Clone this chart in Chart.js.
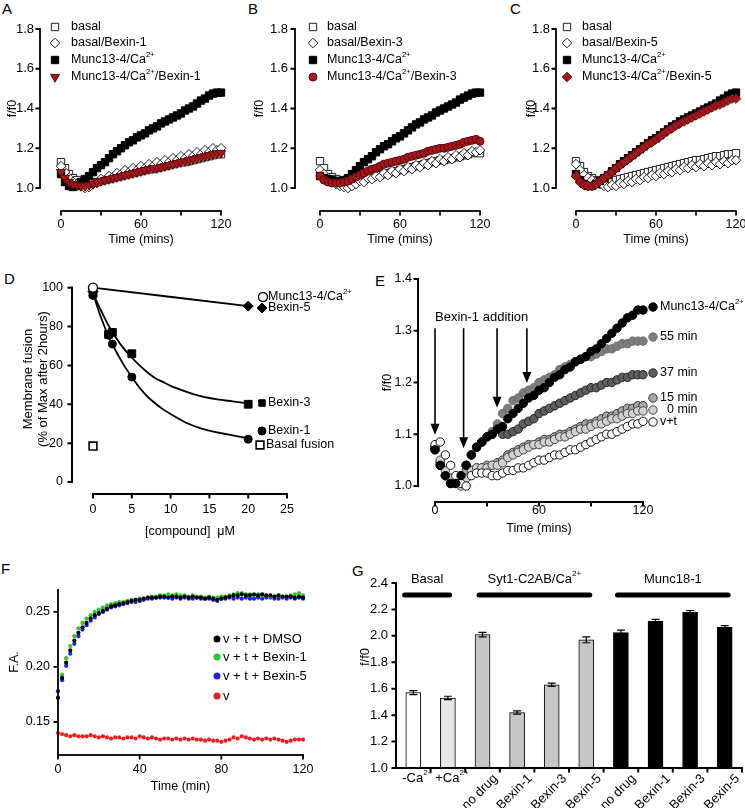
<!DOCTYPE html>
<html>
<head>
<meta charset="utf-8">
<script src="https://cdn.jsdelivr.net/npm/chart.js@4.4.1/dist/chart.umd.min.js"></script>
<style>
html, body { margin:0; padding:0; background:#fff; }
body { position:relative; width:745px; height:808px; overflow:hidden; font-family:"Liberation Sans", Arial, sans-serif; }
canvas { position:absolute; }
.pl { position:absolute; font-size:15px; line-height:15px; color:#000; }
</style>
</head>
<body>
<div class="pl" style="left:2px;top:1px">A</div>
<div class="pl" style="left:248px;top:1px">B</div>
<div class="pl" style="left:510px;top:1px">C</div>
<div class="pl" style="left:4px;top:271px">D</div>
<div class="pl" style="left:375px;top:273px">E</div>
<div class="pl" style="left:1px;top:561px">F</div>
<div class="pl" style="left:352px;top:563px">G</div>
<script>
// ================= DATA =================
const TIME_ABC = [0,3,6,9,12,15,18,21,24,27,30,33,36,39,42,45,48,51,54,57,60,63,66,69,72,75,78,81,84,87,90,93,96,99,102,105,108,111,114,117,120];
const X_TICKS_ABC = [0,30,60,90,120];
const X_LABELS_ABC = [0,60,120];
const Y_TICKS_ABC = [1.0,1.2,1.4,1.6,1.8];

// Panel A
const A_BASAL = [1.13,1.10,1.07,1.05,1.04,1.03,1.02,1.02,1.025,1.03,1.035,1.04,1.045,1.05,1.055,1.06,1.065,1.07,1.075,1.08,1.085,1.09,1.095,1.095,1.10,1.105,1.11,1.115,1.12,1.125,1.13,1.13,1.135,1.14,1.145,1.15,1.155,1.16,1.165,1.17,1.17];
const A_BASAL_BEXIN1 = [1.11,1.08,1.05,1.03,1.02,1.01,1.0,1.005,1.02,1.025,1.045,1.04,1.06,1.055,1.075,1.07,1.09,1.08,1.10,1.09,1.11,1.10,1.12,1.11,1.13,1.12,1.14,1.13,1.15,1.14,1.16,1.15,1.17,1.16,1.18,1.17,1.19,1.18,1.20,1.19,1.20];
const A_MUNC = [1.07,1.03,1.01,1.005,1.01,1.03,1.045,1.06,1.08,1.10,1.115,1.13,1.15,1.17,1.185,1.20,1.215,1.23,1.24,1.255,1.265,1.275,1.29,1.30,1.31,1.325,1.335,1.345,1.355,1.365,1.375,1.39,1.40,1.41,1.425,1.44,1.45,1.465,1.475,1.48,1.48];
const A_MUNC_BEXIN1 = [1.08,1.05,1.03,1.02,1.015,1.01,1.01,1.015,1.02,1.03,1.035,1.04,1.045,1.05,1.055,1.06,1.065,1.07,1.075,1.08,1.085,1.09,1.095,1.10,1.10,1.105,1.11,1.115,1.12,1.125,1.13,1.135,1.14,1.145,1.15,1.155,1.16,1.165,1.17,1.175,1.175];

// Panel B
const B_BASAL = [1.135,1.10,1.07,1.055,1.045,1.035,1.03,1.03,1.03,1.035,1.04,1.045,1.05,1.055,1.06,1.065,1.07,1.075,1.08,1.085,1.09,1.095,1.10,1.105,1.11,1.115,1.12,1.125,1.13,1.135,1.14,1.14,1.145,1.15,1.155,1.16,1.165,1.17,1.175,1.18,1.175];
const B_BASAL_BEXIN3 = [1.09,1.07,1.05,1.03,1.02,1.01,1.005,1.0,1.01,1.02,1.035,1.03,1.05,1.045,1.06,1.055,1.075,1.065,1.085,1.075,1.095,1.085,1.105,1.095,1.115,1.105,1.125,1.115,1.135,1.125,1.145,1.135,1.155,1.145,1.165,1.155,1.175,1.165,1.185,1.18,1.19];
const B_MUNC = [1.06,1.05,1.045,1.04,1.035,1.035,1.04,1.05,1.07,1.09,1.11,1.13,1.145,1.16,1.18,1.195,1.21,1.22,1.235,1.25,1.26,1.275,1.29,1.305,1.32,1.33,1.345,1.355,1.365,1.38,1.39,1.40,1.41,1.42,1.43,1.445,1.455,1.465,1.475,1.48,1.48];
const B_MUNC_BEXIN3 = [1.06,1.04,1.03,1.025,1.025,1.025,1.03,1.035,1.045,1.055,1.065,1.075,1.085,1.095,1.10,1.11,1.12,1.125,1.13,1.135,1.14,1.145,1.155,1.16,1.165,1.17,1.175,1.185,1.19,1.195,1.20,1.20,1.205,1.21,1.215,1.22,1.23,1.235,1.24,1.245,1.235];

// Panel C
const C_BASAL = [1.135,1.11,1.08,1.06,1.05,1.04,1.035,1.03,1.03,1.035,1.04,1.045,1.05,1.055,1.06,1.065,1.07,1.075,1.08,1.085,1.09,1.095,1.10,1.105,1.11,1.115,1.12,1.125,1.13,1.135,1.14,1.14,1.145,1.15,1.155,1.16,1.16,1.165,1.17,1.17,1.175];
const C_BASAL_BEXIN5 = [1.12,1.09,1.065,1.05,1.04,1.03,1.02,1.01,1.005,1.015,1.01,1.025,1.02,1.035,1.03,1.045,1.04,1.055,1.05,1.065,1.06,1.075,1.07,1.085,1.08,1.095,1.09,1.105,1.10,1.115,1.105,1.12,1.11,1.125,1.115,1.13,1.12,1.135,1.125,1.14,1.14];
const C_MUNC = [1.07,1.04,1.02,1.01,1.01,1.02,1.035,1.05,1.065,1.085,1.10,1.12,1.135,1.15,1.165,1.18,1.195,1.21,1.225,1.24,1.25,1.265,1.28,1.295,1.31,1.32,1.335,1.345,1.355,1.365,1.375,1.385,1.395,1.405,1.415,1.425,1.44,1.45,1.465,1.475,1.48];
const C_MUNC_BEXIN5 = [1.06,1.03,1.015,1.01,1.01,1.02,1.035,1.05,1.065,1.08,1.10,1.115,1.13,1.145,1.16,1.175,1.19,1.205,1.22,1.23,1.245,1.26,1.275,1.29,1.30,1.315,1.325,1.335,1.345,1.355,1.365,1.375,1.385,1.395,1.405,1.415,1.42,1.43,1.44,1.45,1.45];

// Panel D
const D_CONC = [0, 2, 2.5, 5, 20];
const D_BEXIN1 = [96, 75.5, 71, 54, 22];
const D_BEXIN3 = [97, 76, 77, 66, 40];
const D_BEXIN5_CONC = [0, 20];
const D_BEXIN5 = [98, 90.5];
const D_MUNC_CONC = [0];
const D_MUNC = [100];
const D_BASAL_CONC = [0];
const D_BASAL = [18.5];
const D_FIT_CONC = [0,1,2,3,4,5,6,7,8,9,10,12,14,16,18,20];
const D_FIT_BEXIN1 = [97,85,75,67,60,54,48.5,44,40.5,37.5,35,30.5,27.5,25.5,24,22.5];
const D_FIT_BEXIN3 = [97,88.5,80.5,74,68.5,64,60,56.5,53.5,51.5,49.5,46.5,44,42.5,41.5,40.5];
const D_FIT_BEXIN5_CONC = [0, 20];
const D_FIT_BEXIN5 = [100, 90.5];
const D_X_TICKS = [0,5,10,15,20,25];
const D_Y_TICKS = [0,20,40,60,80,100];

// Panel E
const TIME_E = [0,3,6,9,12,15,18,21,24,27,30,33,36,39,42,45,48,51,54,57,60,63,66,69,72,75,78,81,84,87,90,93,96,99,102,105,108,111,114,117,120];
const E_MUNC = [1.07,1.04,1.02,1.005,1.005,1.02,1.04,1.06,1.075,1.085,1.095,1.10,1.11,1.115,1.13,1.14,1.15,1.16,1.17,1.175,1.185,1.19,1.20,1.21,1.215,1.225,1.23,1.24,1.245,1.25,1.26,1.265,1.275,1.285,1.295,1.305,1.315,1.325,1.33,1.34,1.34];
const E_55MIN = [1.075,1.045,1.02,1.005,1.005,1.02,1.04,1.06,1.075,1.085,1.095,1.105,1.12,1.14,1.15,1.165,1.17,1.18,1.185,1.19,1.20,1.205,1.21,1.215,1.225,1.23,1.235,1.24,1.245,1.25,1.25,1.255,1.26,1.265,1.265,1.27,1.275,1.275,1.28,1.28,1.28];
const E_37MIN = [1.07,1.04,1.02,1.005,1.005,1.02,1.04,1.06,1.075,1.085,1.095,1.10,1.11,1.10,1.10,1.105,1.11,1.12,1.125,1.13,1.14,1.145,1.15,1.155,1.16,1.165,1.17,1.175,1.18,1.185,1.19,1.19,1.195,1.20,1.20,1.205,1.21,1.21,1.215,1.215,1.215];
const E_15MIN = [1.075,1.045,1.02,1.005,1.005,1.02,1.03,1.03,1.035,1.035,1.04,1.04,1.045,1.05,1.06,1.065,1.07,1.075,1.08,1.08,1.085,1.09,1.09,1.095,1.10,1.10,1.105,1.11,1.115,1.12,1.12,1.125,1.13,1.135,1.135,1.14,1.145,1.15,1.15,1.155,1.155];
const E_0MIN = [1.075,1.05,1.03,1.015,1.005,1.0,1.015,1.03,1.035,1.035,1.035,1.04,1.04,1.045,1.055,1.06,1.065,1.07,1.075,1.08,1.08,1.085,1.085,1.09,1.095,1.095,1.10,1.105,1.11,1.11,1.115,1.12,1.12,1.125,1.13,1.13,1.135,1.14,1.14,1.145,1.145];
const E_VT = [1.08,1.085,1.06,1.04,1.02,1.005,1.0,1.02,1.025,1.025,1.025,1.02,1.02,1.025,1.03,1.03,1.035,1.035,1.04,1.045,1.05,1.05,1.055,1.06,1.06,1.065,1.07,1.07,1.075,1.08,1.085,1.09,1.095,1.10,1.10,1.105,1.11,1.115,1.12,1.12,1.125];
const E_X_TICKS = [0,30,60,90,120];
const E_X_LABELS = [0,60,120];
const E_Y_TICKS = [1.0,1.1,1.2,1.3,1.4];
const E_ADDITION_TIMES = [0, 16.5, 35.8, 53];
const E_ARROW_TIPS = [1.099, 1.073, 1.151, 1.199];

// Panel F
const TIME_F = [0,2,4,6,8,10,12,14,16,18,20,22,24,26,28,30,32,34,36,38,40,42,44,46,48,50,52,54,56,58,60,62,64,66,68,70,72,74,76,78,80,82,84,86,88,90,92,94,96,98,100,102,104,106,108,110,112,114,116,118,120];
const F_DMSO = [0.172,0.190,0.204,0.215,0.224,0.231,0.236,0.240,0.244,0.247,0.249,0.251,0.253,0.255,0.256,0.257,0.258,0.259,0.260,0.261,0.261,0.262,0.263,0.263,0.263,0.264,0.264,0.263,0.264,0.264,0.263,0.264,0.263,0.264,0.263,0.263,0.262,0.263,0.262,0.261,0.262,0.263,0.264,0.265,0.265,0.266,0.265,0.265,0.266,0.265,0.266,0.265,0.265,0.264,0.265,0.264,0.264,0.264,0.263,0.264,0.263];
const F_BEXIN1 = [0.172,0.193,0.208,0.219,0.228,0.235,0.240,0.244,0.247,0.250,0.252,0.254,0.256,0.257,0.258,0.259,0.259,0.260,0.261,0.261,0.262,0.262,0.263,0.264,0.264,0.265,0.265,0.266,0.265,0.266,0.265,0.265,0.264,0.265,0.264,0.264,0.263,0.264,0.263,0.263,0.264,0.264,0.265,0.266,0.267,0.267,0.266,0.266,0.265,0.266,0.265,0.265,0.264,0.264,0.265,0.264,0.264,0.265,0.266,0.267,0.265];
const F_BEXIN5 = [0.178,0.188,0.201,0.212,0.221,0.228,0.234,0.238,0.242,0.245,0.248,0.250,0.252,0.254,0.255,0.256,0.257,0.258,0.259,0.259,0.260,0.261,0.262,0.262,0.263,0.263,0.263,0.263,0.262,0.263,0.262,0.263,0.262,0.262,0.263,0.262,0.262,0.262,0.261,0.260,0.262,0.262,0.263,0.262,0.263,0.262,0.263,0.262,0.262,0.263,0.262,0.263,0.263,0.262,0.262,0.263,0.262,0.263,0.262,0.263,0.262];
const F_V = [0.140,0.139,0.138,0.137,0.138,0.137,0.137,0.137,0.138,0.137,0.136,0.137,0.136,0.135,0.136,0.136,0.135,0.136,0.136,0.135,0.137,0.136,0.135,0.136,0.135,0.134,0.135,0.135,0.134,0.135,0.134,0.135,0.134,0.135,0.134,0.134,0.133,0.134,0.133,0.133,0.132,0.133,0.134,0.136,0.135,0.137,0.136,0.135,0.134,0.135,0.134,0.135,0.134,0.135,0.134,0.133,0.132,0.133,0.134,0.134,0.134];
const F_X_TICKS = [0,40,80,120];
const F_Y_TICKS = [0.15,0.20,0.25];

// Panel G
const G_LABELS = ['-Ca²⁺','+Ca²⁺','no drug','Bexin-1','Bexin-3','Bexin-5','no drug','Bexin-1','Bexin-3','Bexin-5'];
const G_VALUES = [1.57,1.53,2.01,1.42,1.63,1.97,2.025,2.11,2.18,2.065];
const G_ERRORS = [0.015,0.013,0.017,0.013,0.012,0.022,0.018,0.015,0.012,0.012];
const G_GROUPS = ['Basal','Syt1-C2AB/Ca²⁺','Munc18-1'];
const G_GROUP_FIRST = [0,2,6];
const G_GROUP_LAST = [1,5,9];
const G_Y_TICKS = [1.0,1.2,1.4,1.6,1.8,2.0,2.2,2.4];

// ================= HELPERS =================
const FONT = '"Liberation Sans", Arial, Helvetica, sans-serif';
Chart.defaults.font.family = FONT;
Chart.defaults.font.size = 12.5;
Chart.defaults.color = '#000';

const SUPMAP = {'²':'2','⁺':'+'};
function fontStr(size) { return size + 'px ' + FONT; }
function richText(ctx, text, x, y, size, align) {
  const segs = [];
  let cur = '', sup = false;
  for (const ch of text) {
    const s = (ch in SUPMAP);
    if (cur && s !== sup) { segs.push({t: cur, s: sup}); cur = ''; }
    sup = s; cur += s ? SUPMAP[ch] : ch;
  }
  if (cur) segs.push({t: cur, s: sup});
  ctx.save();
  let w = 0;
  for (const g of segs) { ctx.font = fontStr(g.s ? size * 0.62 : size); g.w = ctx.measureText(g.t).width; w += g.w; }
  let cx = align === 'center' ? x - w / 2 : (align === 'right' ? x - w : x);
  ctx.textAlign = 'left'; ctx.textBaseline = 'middle'; ctx.fillStyle = '#000';
  for (const g of segs) {
    ctx.font = fontStr(g.s ? size * 0.62 : size);
    ctx.fillText(g.t, cx, g.s ? y - size * 0.38 : y);
    cx += g.w;
  }
  ctx.restore();
}
function drawMarker(ctx, style, r, rot, bw, x, y) {
  if (Chart.helpers && Chart.helpers.drawPoint) {
    Chart.helpers.drawPoint(ctx, {pointStyle: style, radius: r, rotation: rot, borderWidth: bw}, x, y);
  } else {
    ctx.beginPath(); ctx.arc(x, y, r, 0, Math.PI * 2); ctx.fill(); if (bw) ctx.stroke();
  }
}
const pts = (xs, ys) => xs.map((x, i) => ({x: x, y: ys[i]}));

function markerDS(label, xs, ys, st, order) {
  return {label: label, data: pts(xs, ys), showLine: false, clip: false, order: order,
    pointStyle: st.style, pointRadius: st.r, pointRotation: st.rot || 0,
    pointBackgroundColor: st.fill, pointBorderColor: st.stroke, pointBorderWidth: st.bw,
    backgroundColor: st.fill, borderColor: st.stroke};
}
function lineDS(label, xs, ys, order) {
  return {label: label, data: pts(xs, ys), showLine: true, clip: false, order: order,
    borderColor: '#000', borderWidth: 1.8, pointRadius: 0, cubicInterpolationMode: 'monotone', fill: false};
}
function fixSize(size) {
  return function (s) {
    if (s.isHorizontal()) s.height = size; else s.width = size;
    s.paddingLeft = 0; s.paddingRight = 0; s.paddingTop = 0; s.paddingBottom = 0;
  };
}
function useTicks(values) { return function (s) { s.ticks = values.map(v => ({value: v})); }; }
function linScale(c, size) {
  return {
    type: 'linear', min: c.min, max: c.max,
    afterBuildTicks: useTicks(c.ticks),
    afterFit: fixSize(size),
    grid: {display: false, drawTicks: false},
    border: {display: false},
    ticks: {padding: c.pad, autoSkip: false, maxRotation: 0, minRotation: 0, color: '#000',
      font: {size: c.size}, callback: c.fmt},
    title: {display: true, text: c.title, color: '#000',
      font: {size: c.tsize, lineHeight: c.tlh || 1.2}, padding: c.tpad}
  };
}
function makeCanvas(id, g) {
  const c = document.createElement('canvas');
  c.id = id; c.width = g.W; c.height = g.H;
  c.style.left = g.L + 'px'; c.style.top = g.T + 'px';
  c.style.width = g.W + 'px'; c.style.height = g.H + 'px';
  document.body.appendChild(c);
  return c;
}
function baseOptions(g, scales) {
  return {
    responsive: false, maintainAspectRatio: false, animation: false, devicePixelRatio: 1, events: [],
    layout: {padding: {left: 0, top: g.padTop, right: g.padRight, bottom: 0}},
    scales: scales,
    plugins: {legend: {display: false}, tooltip: {enabled: false}}
  };
}
// Prism-style offset axes drawn along the library's scales
function offsetAxes(o) {
  return {
    id: 'offsetAxes',
    afterDraw(chart) {
      const ctx = chart.ctx;
      const area = chart.chartArea;
      const xs = chart.scales.x, ys = chart.scales.y;
      const ax = area.left - o.gapX;
      const ay = area.bottom + o.gapY;
      const yTop = ys.getPixelForValue(o.yRange[1]);
      const yBot = (o.gapY === 0) ? ay : ys.getPixelForValue(o.yRange[0]);
      let xL = area.left, xR = area.right;
      if (o.xRange) {
        xL = (o.gapX === 0) ? ax : xs.getPixelForValue(o.xRange[0]);
        xR = xs.getPixelForValue(o.xRange[1]);
      }
      const half = o.width / 2;
      ctx.save();
      ctx.fillStyle = '#000';
      ctx.fillRect(ax - half, yTop - half, o.width, (yBot - yTop) + o.width);
      ctx.fillRect(xL - half, ay - half, (xR - xL) + o.width, o.width);
      ctx.strokeStyle = '#000';
      ctx.lineWidth = o.width;
      ctx.beginPath();
      ys.ticks.forEach(t => { const p = ys.getPixelForValue(t.value); ctx.moveTo(ax - o.tick, p); ctx.lineTo(ax, p); });
      if (xs.type === 'category') {
        const n = xs.getLabels().length;
        for (let i = 0; i < n - 1; i++) {
          const p = (xs.getPixelForValue(i) + xs.getPixelForValue(i + 1)) / 2;
          ctx.moveTo(p, ay); ctx.lineTo(p, ay + o.tick);
        }
        ctx.moveTo(xR, ay); ctx.lineTo(xR, ay + o.tick);
      } else {
        xs.ticks.forEach(t => { const p = xs.getPixelForValue(t.value); ctx.moveTo(p, ay); ctx.lineTo(p, ay + o.tick); });
      }
      ctx.stroke();
      ctx.restore();
    }
  };
}
function panelLegend(g, lg) {
  return {
    id: 'panelLegend',
    afterDraw(chart) {
      const ctx = chart.ctx;
      lg.items.forEach(it => {
        const ds = chart.data.datasets[it.ds];
        const mx = it.mx - g.L, my = it.y - g.T;
        ctx.save();
        ctx.fillStyle = ds.pointBackgroundColor; ctx.strokeStyle = ds.pointBorderColor;
        ctx.lineWidth = ds.pointBorderWidth;
        drawMarker(ctx, ds.pointStyle, it.r || ds.pointRadius, ds.pointRotation || 0, ds.pointBorderWidth, mx, my);
        ctx.restore();
        richText(ctx, it.text || ds.label, it.tx - g.L, my, lg.size, 'left');
      });
    }
  };
}

// ================= STYLES =================
const RED_FILL = '#a3161c', RED_STROKE = '#5e0b0e';
const ST_BASAL = {style: 'rect', r: 5.2, fill: '#ffffff', stroke: '#222', bw: 1};
const ST_DIAM = {style: 'rectRot', r: 4.8, fill: '#ffffff', stroke: '#222', bw: 1};
const ST_BLACK = {style: 'rect', r: 5.2, fill: '#000', stroke: '#000', bw: 1};
const ST_RED_TRI = {style: 'triangle', r: 5.2, rot: 180, fill: RED_FILL, stroke: RED_STROKE, bw: 1};
const ST_RED_CIRC = {style: 'circle', r: 4, fill: RED_FILL, stroke: RED_STROKE, bw: 1};
const ST_RED_DIAM = {style: 'rectRot', r: 4.8, fill: RED_FILL, stroke: RED_STROKE, bw: 1};

// ================= PANELS A-C =================
function timePanel(id, g, series, names, redStyle, legend) {
  const datasets = [
    markerDS(names[0], TIME_ABC, series[0], ST_BASAL, 3),
    markerDS(names[1], TIME_ABC, series[1], ST_DIAM, 2),
    markerDS(names[2], TIME_ABC, series[2], ST_BLACK, 1),
    markerDS(names[3], TIME_ABC, series[3], redStyle, 0)
  ];
  const xs = {min: 0, max: 120, ticks: X_TICKS_ABC, fmt: v => X_LABELS_ABC.includes(v) ? String(v) : '',
    pad: 29.5, size: 12.5, title: 'Time (mins)', tsize: 12.5, tpad: {top: 0, bottom: 0}};
  const ys = {min: 1.0, max: 1.8, ticks: Y_TICKS_ABC, fmt: v => v.toFixed(1),
    pad: g.yPad, size: 13, title: 'f/f0', tsize: 12.5, tpad: {top: g.yTitlePad, bottom: 0}};
  new Chart(makeCanvas(id, g), {
    type: 'scatter',
    data: {datasets: datasets},
    options: baseOptions(g, {x: linScale(xs, g.xh), y: linScale(ys, g.yw)}),
    plugins: [offsetAxes({gapX: g.gapX, gapY: 23, width: 1.8, tick: 4.5, yRange: [1.0, 1.8], xRange: [0, 120]}),
              panelLegend(g, legend)]
  });
}
function legendABC(mx, tx) {
  return {size: 12.5, items: [
    {ds: 0, mx: mx, tx: tx, y: 27}, {ds: 1, mx: mx, tx: tx, y: 43},
    {ds: 2, mx: mx, tx: tx, y: 60}, {ds: 3, mx: mx, tx: tx, y: 77}]};
}
timePanel('chartA', {L: 0, T: 0, W: 233, H: 247, padTop: 29, padRight: 12, yw: 61, xh: 59, yPad: 27, yTitlePad: 5, gapX: 21},
  [A_BASAL, A_BASAL_BEXIN1, A_MUNC, A_MUNC_BEXIN1],
  ['basal', 'basal/Bexin-1', 'Munc13-4/Ca²⁺', 'Munc13-4/Ca²⁺/Bexin-1'], ST_RED_TRI, legendABC(55, 71));
timePanel('chartB', {L: 248, T: 0, W: 244, H: 247, padTop: 29, padRight: 12, yw: 72, xh: 59, yPad: 32, yTitlePad: 4.5, gapX: 25},
  [B_BASAL, B_BASAL_BEXIN3, B_MUNC, B_MUNC_BEXIN3],
  ['basal', 'basal/Bexin-3', 'Munc13-4/Ca²⁺', 'Munc13-4/Ca²⁺/Bexin-3'], ST_RED_CIRC, legendABC(313, 327));
timePanel('chartC', {L: 510, T: 0, W: 235, H: 247, padTop: 29, padRight: 9, yw: 66, xh: 59, yPad: 26, yTitlePad: 14.5, gapX: 20},
  [C_BASAL, C_BASAL_BEXIN5, C_MUNC, C_MUNC_BEXIN5],
  ['basal', 'basal/Bexin-5', 'Munc13-4/Ca²⁺', 'Munc13-4/Ca²⁺/Bexin-5'], ST_RED_DIAM, legendABC(567, 582));

// ================= PANEL D =================
(function () {
  const g = {L: 0, T: 256, W: 368, H: 283, padTop: 20, padRight: 81};
  const datasets = [
    lineDS('Bexin-5 fit', D_FIT_BEXIN5_CONC, D_FIT_BEXIN5, 10),
    lineDS('Bexin-3 fit', D_FIT_CONC, D_FIT_BEXIN3, 10),
    lineDS('Bexin-1 fit', D_FIT_CONC, D_FIT_BEXIN1, 10),
    markerDS('Bexin-5', D_BEXIN5_CONC, D_BEXIN5, {style: 'rectRot', r: 5, fill: '#000', stroke: '#000', bw: 1}, 3),
    markerDS('Bexin-3', D_CONC, D_BEXIN3, {style: 'rect', r: 5.5, fill: '#000', stroke: '#000', bw: 1}, 2),
    markerDS('Bexin-1', D_CONC, D_BEXIN1, {style: 'circle', r: 4, fill: '#000', stroke: '#000', bw: 1}, 1),
    markerDS('Munc13-4/Ca²⁺', D_MUNC_CONC, D_MUNC, {style: 'circle', r: 4.5, fill: '#fff', stroke: '#000', bw: 1.4}, 0),
    markerDS('Basal fusion', D_BASAL_CONC, D_BASAL, {style: 'rect', r: 5.5, fill: '#fff', stroke: '#000', bw: 1.6}, 0)
  ];
  const xs = {min: 0, max: 25, ticks: D_X_TICKS, fmt: v => String(v), pad: 20.5, size: 12.5,
    title: '[compound]  μM', tsize: 12.5, tpad: {top: 0, bottom: 0}};
  const ys = {min: 0, max: 106, ticks: D_Y_TICKS, fmt: v => String(v), pad: 30, size: 12.5,
    title: ['Membrane fusion', '(% of Max after 2hours)'], tsize: 13, tlh: 1.1, tpad: {top: 21.5, bottom: 0}};
  const legend = {size: 12.5, items: [
    {ds: 6, mx: 263, tx: 268, y: 297}, {ds: 3, mx: 262, tx: 268, y: 308},
    {ds: 4, mx: 262, tx: 268, y: 403, r: 4.6}, {ds: 5, mx: 262, tx: 268, y: 431},
    {ds: 7, mx: 260, tx: 266, y: 445}]};
  new Chart(makeCanvas('chartD', g), {
    type: 'scatter',
    data: {datasets: datasets},
    options: baseOptions(g, {x: linScale(xs, 57), y: linScale(ys, 93)}),
    plugins: [offsetAxes({gapX: 21, gapY: 12, width: 2, tick: 4.5, yRange: [0, 100], xRange: [0, 25]}),
              panelLegend(g, legend)]
  });
})();

// ================= PANEL E =================
(function () {
  const g = {L: 372, T: 255, W: 373, H: 281, padTop: 24, padRight: 102};
  const circ = (fill, stroke) => ({style: 'circle', r: 4.2, fill: fill, stroke: stroke, bw: 1});
  const datasets = [
    markerDS('Munc13-4/Ca²⁺', TIME_E, E_MUNC, circ('#000', '#000'), 0),
    markerDS('55 min', TIME_E, E_55MIN, circ('#7d7d7d', '#6a6a6a'), 4),
    markerDS('37 min', TIME_E, E_37MIN, circ('#5f5f5f', '#222'), 5),
    markerDS('15 min', TIME_E, E_15MIN, circ('#a9a9a9', '#333'), 3),
    markerDS('0 min', TIME_E, E_0MIN, circ('#d2d2d2', '#444'), 2),
    markerDS('v+t', TIME_E, E_VT, circ('#fff', '#111'), 1)
  ];
  const xs = {min: 0, max: 120, ticks: E_X_TICKS, fmt: v => E_X_LABELS.includes(v) ? String(v) : '',
    pad: 17.5, size: 12.5, title: 'Time (mins)', tsize: 12.5, tpad: {top: 0, bottom: 0}};
  const ys = {min: 1.0, max: 1.4, ticks: E_Y_TICKS, fmt: v => v.toFixed(1), pad: 23, size: 12.5,
    title: 'f/f0', tsize: 12.5, tpad: {top: 8.5, bottom: 0}};
  const legend = {size: 12.5, items: [
    {ds: 0, mx: 653, tx: 660, y: 307}, {ds: 1, mx: 653, tx: 660, y: 337},
    {ds: 2, mx: 653, tx: 660, y: 373}, {ds: 3, mx: 653, tx: 660, y: 398},
    {ds: 4, mx: 653, tx: 667, y: 410}, {ds: 5, mx: 653, tx: 660, y: 422}]};
  const arrows = {
    id: 'eArrows',
    afterDatasetsDraw(chart) {
      const {ctx, scales: {x, y}} = chart;
      const top = y.getPixelForValue(1.305);
      ctx.save();
      ctx.strokeStyle = '#000'; ctx.fillStyle = '#000'; ctx.lineWidth = 1.6;
      E_ADDITION_TIMES.forEach((t, i) => {
        const px = x.getPixelForValue(t), tip = y.getPixelForValue(E_ARROW_TIPS[i]);
        ctx.beginPath(); ctx.moveTo(px, top); ctx.lineTo(px, tip - 9); ctx.stroke();
        ctx.beginPath(); ctx.moveTo(px - 4.5, tip - 11); ctx.lineTo(px + 4.5, tip - 11); ctx.lineTo(px, tip); ctx.closePath(); ctx.fill();
      });
      ctx.restore();
      richText(ctx, 'Bexin-1 addition', x.getPixelForValue(0), y.getPixelForValue(1.3266), 13, 'left');
    }
  };
  new Chart(makeCanvas('chartE', g), {
    type: 'scatter',
    data: {datasets: datasets},
    options: baseOptions(g, {x: linScale(xs, 50), y: linScale(ys, 63)}),
    plugins: [offsetAxes({gapX: 17, gapY: 16, width: 2, tick: 4.5, yRange: [1.0, 1.4], xRange: [0, 120]}),
              arrows, panelLegend(g, legend)]
  });
})();

// ================= PANEL F =================
(function () {
  const g = {L: 0, T: 549, W: 318, H: 245, padTop: 20, padRight: 15};
  const dot = (c) => ({style: 'circle', r: 2.1, fill: c, stroke: c, bw: 0});
  const datasets = [
    markerDS('v + t + DMSO', TIME_F, F_DMSO, dot('#000'), 0),
    markerDS('v + t + Bexin-1', TIME_F, F_BEXIN1, dot('#2ec42e'), 1),
    markerDS('v + t + Bexin-5', TIME_F, F_BEXIN5, dot('#1f1fe6'), 2),
    markerDS('v', TIME_F, F_V, dot('#ee1c1c'), 3)
  ];
  const xs = {min: 0, max: 120, ticks: F_X_TICKS, fmt: v => String(v), pad: 7.5, size: 12.5,
    title: 'Time (min)', tsize: 12.5, tpad: {top: 0, bottom: 0}};
  const ys = {min: 0.12, max: 0.289, ticks: F_Y_TICKS, fmt: v => v.toFixed(2), pad: 8, size: 12.5,
    title: 'F.A.', tsize: 12.5, tpad: {top: 7.5, bottom: 0}};
  const legend = {size: 13, items: [
    {ds: 0, mx: 217, tx: 223, y: 639, r: 3.5}, {ds: 1, mx: 217, tx: 223, y: 657, r: 3.5},
    {ds: 2, mx: 217, tx: 223, y: 676, r: 3.5}, {ds: 3, mx: 217, tx: 223, y: 696, r: 3.5}]};
  new Chart(makeCanvas('chartF', g), {
    type: 'scatter',
    data: {datasets: datasets},
    options: baseOptions(g, {x: linScale(xs, 39), y: linScale(ys, 58)}),
    plugins: [offsetAxes({gapX: 0, gapY: 0, width: 1.8, tick: 4.5, yRange: [0.12, 0.27], xRange: [0, 120]}),
              panelLegend(g, legend)]
  });
})();

// ================= PANEL G =================
(function () {
  const g = {L: 355, T: 530, W: 390, H: 278, padTop: 16, padRight: 3};
  const colors = ['#ffffff', '#e6e6e6', '#c6c6c6', '#c6c6c6', '#c6c6c6', '#c6c6c6', '#000', '#000', '#000', '#000'];
  const ys = {min: 1.0, max: 2.68, ticks: G_Y_TICKS, fmt: v => v.toFixed(1), pad: 8, size: 13,
    title: 'f/f0', tsize: 13, tpad: {top: 2.2, bottom: 0}};
  const ext = [[0.25, 0.05], [0.1, 0.1], [0.1, 0.1]];
  const extras = {
    id: 'gExtras',
    afterDatasetsDraw(chart) {
      const {ctx, chartArea: a, scales: {x, y}} = chart;
      const meta = chart.getDatasetMeta(0);
      ctx.save();
      ctx.strokeStyle = '#000'; ctx.lineWidth = 1.2;
      meta.data.forEach((bar, i) => {
        const t = y.getPixelForValue(G_VALUES[i] + G_ERRORS[i]);
        const b = y.getPixelForValue(G_VALUES[i] - G_ERRORS[i]);
        ctx.beginPath();
        ctx.moveTo(bar.x, t); ctx.lineTo(bar.x, b);
        ctx.moveTo(bar.x - 4, t); ctx.lineTo(bar.x + 4, t);
        ctx.moveTo(bar.x - 4, b); ctx.lineTo(bar.x + 4, b);
        ctx.stroke();
      });
      const step = x.getPixelForValue(1) - x.getPixelForValue(0);
      ctx.lineWidth = 5; ctx.lineCap = 'round';
      const ly = y.getPixelForValue(2.31);
      G_GROUPS.forEach((name, k) => {
        const x0 = x.getPixelForValue(G_GROUP_FIRST[k]) - ext[k][0] * step;
        const x1 = x.getPixelForValue(G_GROUP_LAST[k]) + ext[k][1] * step;
        ctx.beginPath(); ctx.moveTo(x0, ly); ctx.lineTo(x1, ly); ctx.stroke();
        richText(ctx, name, (x0 + x1) / 2, y.getPixelForValue(2.43), 13, 'center');
      });
      ctx.restore();
      for (let i = 0; i < 2; i++) richText(ctx, G_LABELS[i], x.getPixelForValue(i) + 4, a.bottom + 10, 13, 'center');
    }
  };
  new Chart(makeCanvas('chartG', g), {
    type: 'bar',
    data: {labels: G_LABELS, datasets: [{label: 'f/f0', data: G_VALUES, backgroundColor: colors,
      borderColor: '#000', borderWidth: 1, barThickness: 15}]},
    options: baseOptions(g, {
      x: {type: 'category', offset: true, afterFit: fixSize(40),
        grid: {display: false, drawTicks: false}, border: {display: false},
        ticks: {padding: 3, autoSkip: false, minRotation: 45, maxRotation: 45, labelOffset: 13,
          font: {size: 13}, color: '#000', callback: (v, i) => i < 2 ? '' : G_LABELS[i]}},
      y: linScale(ys, 41)
    }),
    plugins: [offsetAxes({gapX: 0, gapY: 0, width: 2, tick: 4.5, yRange: [1.0, 2.4], xRange: null}), extras]
  });
})();
</script>
</body>
</html>
